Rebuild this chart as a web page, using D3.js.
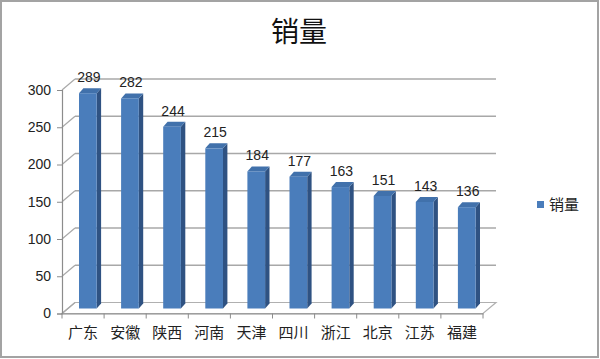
<!DOCTYPE html>
<html><head><meta charset="utf-8">
<script src="https://cdn.jsdelivr.net/npm/d3@7"></script>
<style>html,body{margin:0;padding:0;background:#fff;}svg{display:block;}</style>
</head><body>
<svg id="c" width="600" height="359"></svg>
<script>
const categories = ["广东","安徽","陕西","河南","天津","四川","浙江","北京","江苏","福建"];
const values = [289,282,244,215,184,177,163,151,143,136];
const yTicks = [0,50,100,150,200,250,300];
const title = "销量";
const seriesName = "销量";

const svg = d3.select("#c");
const DX = 13, DY = 11;
const y = d3.scaleLinear().domain([0,300]).range([313.5,90]);
const x = d3.scaleBand().domain(categories).range([62,483]).padding(0);
const bw = 17.7, f0x = 4.8, f0y = 5, ddx = 4.4, ddy = 5;
const cjk = "'Noto Sans CJK SC', sans-serif";
const lat = "'Liberation Sans', Arial, sans-serif";

// outer border
svg.append("rect").attr("x",1).attr("y",1).attr("width",597).attr("height",356)
  .attr("fill","#fff").attr("stroke","#a3a3a3").attr("stroke-width",2);

// title
svg.append("text").attr("x",299).attr("y",42).attr("text-anchor","middle")
  .attr("font-family",cjk).attr("font-size",28).attr("fill","#111").text(title);

const g = svg.append("g");
const x0 = x.range()[0], x1 = x.range()[1];
// floor
g.append("path").attr("d",`M${x0},${y(0)}L${x1},${y(0)}L${x1+DX},${y(0)-DY}L${x0+DX},${y(0)-DY}Z`)
  .attr("fill","#fff").attr("stroke","#b0b0b0").attr("stroke-width",1.2);
// gridlines (back wall) + left wall diagonals
yTicks.forEach(t => {
  if (t>0) g.append("line").attr("x1",x0+DX).attr("x2",x1+DX).attr("y1",y(t)-DY).attr("y2",y(t)-DY)
    .attr("stroke","#a8a8a8").attr("stroke-width",1.3);
  g.append("line").attr("x1",x0).attr("y1",y(t)).attr("x2",x0+DX).attr("y2",y(t)-DY)
    .attr("stroke","#a8a8a8").attr("stroke-width",1.2);
});
// y axis (front)
const yAxis = d3.axisLeft(y).tickValues(yTicks).tickSize(5).tickPadding(6);
const ya = g.append("g").attr("transform",`translate(${x0},0)`).call(yAxis);
ya.select(".domain").attr("stroke","#8c8c8c").attr("stroke-width",1.2);
ya.selectAll(".tick line").attr("stroke","#8c8c8c");
ya.selectAll("text").attr("font-family",lat).attr("font-size",14).attr("fill","#222");
// x axis (front)
const xa = g.append("g").attr("transform",`translate(0,${y(0)})`)
  .call(d3.axisBottom(x).tickSize(0).tickPadding(14));
xa.select(".domain").attr("stroke","#8c8c8c").attr("stroke-width",1.2);
xa.selectAll("text").attr("font-family",cjk).attr("font-size",15).attr("fill","#222");
const edges = categories.map(c => x(c)).concat([x1]);
xa.selectAll(".tk").data(edges).enter().append("line").attr("class","tk")
  .attr("x1",d=>d).attr("x2",d=>d).attr("y1",0).attr("y2",5).attr("stroke","#8c8c8c");

// bars
const bars = g.append("g");
categories.forEach((c,i) => {
  const v = values[i];
  const cx = x(c) + x.bandwidth()/2;
  const lx = cx - bw/2 + f0x, rx = lx + bw;
  const top = y(v) - f0y, bot = y(0) - f0y;
  bars.append("path").attr("d",`M${rx},${top}L${rx+ddx},${top-ddy}L${rx+ddx},${bot-ddy}L${rx},${bot}Z`)
    .attr("fill","#2f5282");
  bars.append("path").attr("d",`M${lx},${top}L${lx+ddx},${top-ddy}L${rx+ddx},${top-ddy}L${rx},${top}Z`)
    .attr("fill","#4171ab");
  bars.append("rect").attr("x",lx).attr("y",top).attr("width",bw).attr("height",bot-top)
    .attr("fill","#4a7dbb");
  bars.append("text").attr("x",lx+bw/2+1).attr("y",top-ddy-6).attr("text-anchor","middle")
    .attr("font-family",lat).attr("font-size",14).attr("fill","#222").text(v);
});

// legend
svg.append("rect").attr("x",537).attr("y",201).attr("width",7).attr("height",7).attr("fill","#4a7dbb");
svg.append("text").attr("x",549).attr("y",210).attr("font-family",cjk).attr("font-size",15)
  .attr("fill","#222").text(seriesName);
</script>
</body></html>
